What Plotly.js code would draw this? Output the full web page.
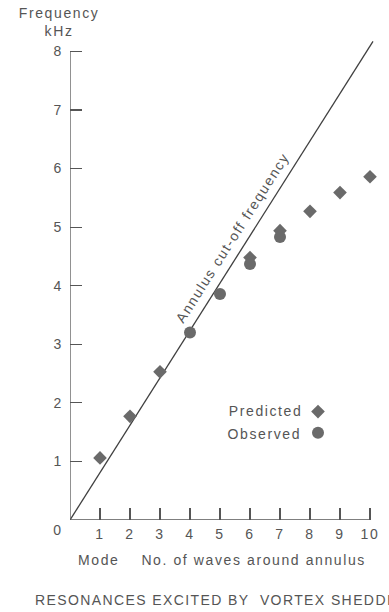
<!DOCTYPE html>
<html>
<head>
<meta charset="utf-8">
<script src="https://cdn.plot.ly/plotly-3.0.1.min.js"></script>
<style>
html,body{margin:0;padding:0;background:#fff;}
#chart{width:389px;height:612px;}
.main-svg text{letter-spacing:1.6px;}
.main-svg .gtitle{letter-spacing:1.4px;}
</style>
</head>
<body>
<div id="chart"></div>
<script>
// Data
const modes = [1, 2, 3, 4, 5, 6, 7, 8, 9, 10];
const predicted = [1.06, 1.77, 2.53, null, null, 4.48, 4.94, 5.27, 5.59, 5.86];
const observed = [null, null, null, 3.20, 3.86, 4.37, 4.83, null, null, null];
const cutoffX = [0, 10.1];
const cutoffY = [0, 8.17];
const xTicks = [1, 2, 3, 4, 5, 6, 7, 8, 9, 10];
const yTicks = [1, 2, 3, 4, 5, 6, 7, 8];

const ink = '#555555';
const markColor = '#6a6a6a';
const fontFam = '"Liberation Sans", Arial, Helvetica, sans-serif';

// plot area geometry in pixels (for placing free text in paper coords)
const L = 70, R = 388, T = 28, B = 520;
const px = v => (v - L) / (R - L);
const py = v => (B - v) / (B - T);

const traces = [
  {x: cutoffX, y: cutoffY, mode: 'lines', line: {color: '#3f3f3f', width: 1.3},
   showlegend: false, hoverinfo: 'skip', cliponaxis: false},
  {x: modes, y: predicted, mode: 'markers', name: ' ',
   marker: {symbol: 'diamond', size: 10.5, color: markColor}, cliponaxis: false},
  {x: modes, y: observed, mode: 'markers', name: ' ',
   marker: {symbol: 'circle', size: 12, color: markColor}, cliponaxis: false}
];

const layout = {
  width: 389, height: 612,
  margin: {l: L, r: 389 - R, t: T, b: 612 - B, autoexpand: false},
  paper_bgcolor: '#fff', plot_bgcolor: '#fff',
  font: {family: fontFam, size: 14, color: ink},
  title: {text: 'RESONANCES EXCITED BY  VORTEX SHEDDING', xref: 'container', yref: 'container',
          x: 35/389, xanchor: 'left', y: 1 - 600/612, yanchor: 'middle',
          font: {family: fontFam, size: 14, color: ink}},
  xaxis: {range: [0, 10.6], tickvals: xTicks, ticktext: xTicks.map(String),
          ticks: 'inside', ticklen: 12, tickwidth: 1.2, tickcolor: ink,
          showline: false, showgrid: false, zeroline: false, fixedrange: true,
          ticklabelstandoff: 4, automargin: false,
          tickfont: {size: 14, color: ink}},
  yaxis: {range: [0, 8.4], tickvals: yTicks, ticktext: yTicks.map(String),
          ticks: 'inside', ticklen: 12, tickwidth: 1.2, tickcolor: ink,
          showline: false, showgrid: false, zeroline: false, fixedrange: true,
          ticklabelstandoff: 6, automargin: false,
          tickfont: {size: 14, color: ink}},
  shapes: [
    {type: 'line', xref: 'x', yref: 'y', x0: 0, y0: 0, x1: 10, y1: 0, line: {color: ink, width: 1.3}},
    {type: 'line', xref: 'x', yref: 'y', x0: 0, y0: 0, x1: 0, y1: 8, line: {color: ink, width: 1.3}}
  ],
  showlegend: true,
  legend: {xref: 'paper', yref: 'paper', x: px(298), xanchor: 'left',
           y: py(396), yanchor: 'top', bgcolor: 'rgba(0,0,0,0)',
           font: {size: 14, color: ink}, tracegroupgap: 0},
  annotations: [
    {text: 'Frequency<br>kHz', xref: 'paper', yref: 'paper', x: px(59), y: py(22),
     xanchor: 'center', yanchor: 'middle', showarrow: false, font: {size: 14, color: ink}},
    {text: 'Mode    No. of waves around annulus', xref: 'paper', yref: 'paper', x: px(222), y: py(560),
     xanchor: 'center', yanchor: 'middle', showarrow: false, font: {size: 14, color: ink}},
    {text: '0', xref: 'x', yref: 'y', x: 0, y: 0, xshift: -12, yshift: -10,
     showarrow: false, font: {size: 14, color: ink}},
    {text: 'Annulus cut-off frequency', xref: 'x', yref: 'y', x: 5.40, y: 4.82,
     textangle: -57.5, showarrow: false, font: {size: 14, color: ink}},
    {text: 'Predicted', xref: 'paper', yref: 'paper', x: px(297), y: py(410.7),
     xanchor: 'right', yanchor: 'middle', showarrow: false, font: {size: 14, color: ink}},
    {text: 'Observed', xref: 'paper', yref: 'paper', x: px(297), y: py(434),
     xanchor: 'right', yanchor: 'middle', showarrow: false, font: {size: 14, color: ink}}
  ]
};

Plotly.newPlot('chart', traces, layout, {staticPlot: true, displayModeBar: false});
</script>
</body>
</html>
